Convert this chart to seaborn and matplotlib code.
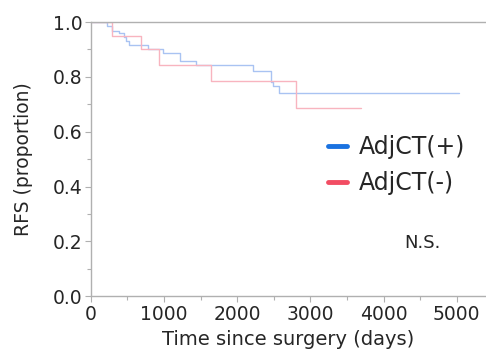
import matplotlib
matplotlib.use('Agg')
import matplotlib.pyplot as plt
import matplotlib.ticker as ticker
from matplotlib.lines import Line2D
import pandas as pd
import seaborn as sns

# Kaplan-Meier step points (days, proportion)
pos_days = [0, 224, 293, 389, 448, 481, 526, 787, 984, 1213, 1433, 2220, 2459, 2486, 2577, 5030]
pos_rfs = [1.0, 0.985, 0.968, 0.959, 0.946, 0.932, 0.918, 0.901, 0.888, 0.859, 0.843, 0.823, 0.782, 0.765, 0.743, 0.743]
neg_days = [0, 288, 687, 925, 1635, 2806, 3686]
neg_rfs = [1.0, 0.95, 0.901, 0.843, 0.784, 0.685, 0.685]

groups = ['AdjCT(+)', 'AdjCT(-)']
x_ticks = [0, 1000, 2000, 3000, 4000, 5000]
y_ticks = [0.0, 0.2, 0.4, 0.6, 0.8, 1.0]

df_pos = pd.DataFrame({'days': pos_days, 'rfs': pos_rfs})
df_neg = pd.DataFrame({'days': neg_days, 'rfs': neg_rfs})

sns.set_style('white')
plt.rcParams['font.family'] = ['DejaVu Sans']

fig = plt.figure(figsize=(4.86, 3.56), dpi=100)
ax = fig.add_axes([0.187, 0.168, 0.813, 0.770])

sns.lineplot(x='days', y='rfs', data=df_pos, ax=ax, drawstyle='steps-post',
             color='#a9c3f2', linewidth=1.0, estimator=None)
sns.lineplot(x='days', y='rfs', data=df_neg, ax=ax, drawstyle='steps-post',
             color='#f8b4bf', linewidth=1.0, estimator=None)

ax.set_xlim(0, 5400)
ax.set_ylim(0, 1.0)
ax.set_xticks(x_ticks)
ax.set_yticks(y_ticks)
ax.set_yticklabels([f'{v:.1f}' for v in y_ticks])
ax.xaxis.set_minor_locator(ticker.MultipleLocator(500))
ax.yaxis.set_minor_locator(ticker.MultipleLocator(0.1))
ax.tick_params(axis='both', which='major', direction='out', length=4, width=0.8,
               color='#b0b0b0', labelsize=13.5, pad=2)
ax.tick_params(axis='both', which='minor', direction='out', length=3, width=0.8,
               color='#b0b0b0')
ax.tick_params(axis='x', which='both', bottom=True)
ax.tick_params(axis='y', which='both', left=True)

for side in ['left', 'bottom', 'top']:
    ax.spines[side].set_color('#b0b0b0')
    ax.spines[side].set_linewidth(1.0)
ax.spines['right'].set_visible(False)

ax.set_xlabel('Time since surgery (days)', fontsize=14, labelpad=5)
ax.set_ylabel('RFS (proportion)', fontsize=13.5, labelpad=14)

handles = [Line2D([], [], color='#1a72e0', linewidth=3.5),
           Line2D([], [], color='#f24d63', linewidth=3.5)]
ax.legend(handles, groups, loc='center right', bbox_to_anchor=(1.0, 0.478),
          frameon=False, fontsize=17, handlelength=0.8, handletextpad=0.5,
          labelspacing=0.5)

ax.text(0.84, 0.195, 'N.S.', transform=ax.transAxes, fontsize=13,
        ha='center', va='center')

fig.savefig('out.png', dpi=100)
